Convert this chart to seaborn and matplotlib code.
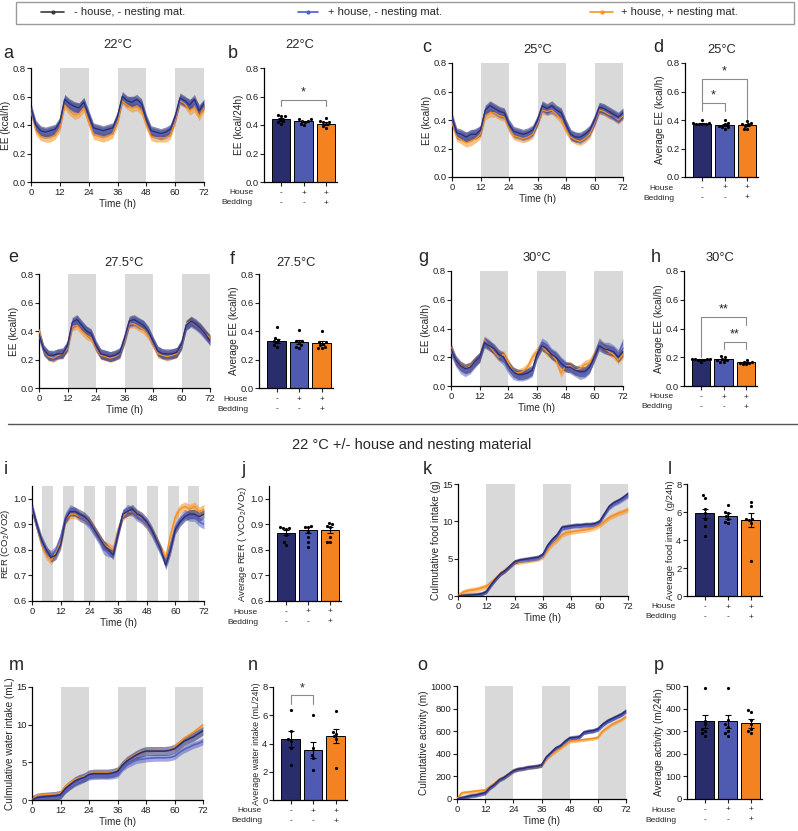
import matplotlib
matplotlib.use("Agg")
import matplotlib.pyplot as plt
from matplotlib.lines import Line2D
from matplotlib.patches import Rectangle
import numpy as np
import pandas as pd
import seaborn as sns

# ---------------------------------------------------------------- data
GROUPS = ["- house, - nesting mat.", "+ house, - nesting mat.", "+ house, + nesting mat."]
CATS = ["ctrl", "house", "house_nest"]
HOUSE_SIGNS = ["-", "+", "+"]
BEDDING_SIGNS = ["-", "-", "+"]

HOURS = list(range(0, 73, 2))
DARK_PHASES = [(12, 24), (36, 48), (60, 72)]
RER_BAND_STARTS = [4.2, 12.9, 21.7, 30.5, 39.3, 48.1, 56.9, 65.5]
RER_BAND_WIDTH = 4.6

# energy expenditure traces (kcal/h), every 2 h
EE22_CTRL = [0.52, 0.40, 0.36, 0.35, 0.36, 0.37, 0.42, 0.58, 0.55, 0.53, 0.52, 0.56, 0.47, 0.38, 0.37, 0.36, 0.37, 0.38, 0.46,
             0.60, 0.57, 0.56, 0.58, 0.55, 0.44, 0.36, 0.35, 0.34, 0.35, 0.37, 0.46, 0.59, 0.57, 0.54, 0.58, 0.50, 0.55]
EE22_HOUSE = [0.50, 0.39, 0.35, 0.34, 0.35, 0.36, 0.41, 0.57, 0.54, 0.52, 0.52, 0.55, 0.46, 0.37, 0.36, 0.35, 0.36, 0.37, 0.45,
              0.59, 0.56, 0.57, 0.56, 0.54, 0.43, 0.35, 0.34, 0.33, 0.34, 0.36, 0.45, 0.58, 0.56, 0.55, 0.56, 0.51, 0.54]
EE22_NEST = [0.50, 0.36, 0.32, 0.31, 0.31, 0.33, 0.38, 0.54, 0.50, 0.47, 0.48, 0.52, 0.42, 0.33, 0.32, 0.31, 0.32, 0.34, 0.42,
             0.57, 0.54, 0.52, 0.53, 0.50, 0.40, 0.32, 0.31, 0.31, 0.31, 0.33, 0.43, 0.57, 0.55, 0.50, 0.52, 0.46, 0.52]

EE25_CTRL = [0.42, 0.31, 0.30, 0.28, 0.30, 0.30, 0.33, 0.47, 0.50, 0.48, 0.46, 0.45, 0.37, 0.32, 0.31, 0.30, 0.31, 0.33, 0.40,
             0.50, 0.48, 0.50, 0.47, 0.45, 0.37, 0.30, 0.28, 0.28, 0.30, 0.33, 0.40, 0.49, 0.48, 0.46, 0.44, 0.42, 0.45]
EE25_HOUSE = [0.40, 0.30, 0.29, 0.28, 0.29, 0.31, 0.32, 0.46, 0.49, 0.47, 0.45, 0.44, 0.36, 0.31, 0.30, 0.29, 0.30, 0.32, 0.39,
              0.49, 0.47, 0.48, 0.46, 0.44, 0.36, 0.29, 0.28, 0.27, 0.29, 0.32, 0.39, 0.48, 0.47, 0.45, 0.43, 0.41, 0.44]
EE25_NEST = [0.38, 0.28, 0.26, 0.24, 0.25, 0.27, 0.30, 0.43, 0.45, 0.45, 0.43, 0.42, 0.34, 0.29, 0.28, 0.27, 0.28, 0.30, 0.38,
             0.47, 0.46, 0.47, 0.44, 0.40, 0.33, 0.28, 0.26, 0.25, 0.27, 0.30, 0.38, 0.47, 0.46, 0.44, 0.43, 0.40, 0.43]

EE275_CTRL = [0.38, 0.27, 0.23, 0.23, 0.24, 0.24, 0.30, 0.46, 0.48, 0.44, 0.40, 0.38, 0.30, 0.24, 0.23, 0.22, 0.23, 0.25, 0.35,
              0.47, 0.48, 0.46, 0.44, 0.40, 0.33, 0.26, 0.24, 0.24, 0.24, 0.25, 0.31, 0.44, 0.47, 0.45, 0.42, 0.38, 0.33]
EE275_HOUSE = [0.37, 0.26, 0.23, 0.22, 0.24, 0.25, 0.29, 0.45, 0.47, 0.43, 0.40, 0.37, 0.29, 0.24, 0.23, 0.22, 0.23, 0.24, 0.34,
               0.46, 0.47, 0.45, 0.44, 0.39, 0.32, 0.26, 0.24, 0.23, 0.24, 0.25, 0.30, 0.44, 0.46, 0.44, 0.41, 0.37, 0.34]
EE275_NEST = [0.41, 0.26, 0.22, 0.21, 0.23, 0.24, 0.28, 0.43, 0.44, 0.40, 0.37, 0.35, 0.28, 0.23, 0.22, 0.21, 0.22, 0.24, 0.33,
              0.45, 0.45, 0.43, 0.41, 0.37, 0.31, 0.24, 0.23, 0.22, 0.23, 0.24, 0.30, 0.45, 0.47, 0.44, 0.42, 0.38, 0.35]

EE30_CTRL = [0.26, 0.18, 0.14, 0.12, 0.13, 0.17, 0.20, 0.30, 0.28, 0.26, 0.22, 0.20, 0.14, 0.10, 0.08, 0.08, 0.09, 0.11, 0.22,
             0.28, 0.26, 0.22, 0.20, 0.16, 0.13, 0.13, 0.11, 0.10, 0.10, 0.13, 0.20, 0.28, 0.26, 0.25, 0.24, 0.20, 0.24]
EE30_HOUSE = [0.24, 0.17, 0.12, 0.10, 0.12, 0.16, 0.20, 0.31, 0.29, 0.25, 0.21, 0.18, 0.12, 0.08, 0.07, 0.07, 0.08, 0.10, 0.22,
              0.30, 0.28, 0.23, 0.21, 0.17, 0.14, 0.12, 0.10, 0.08, 0.09, 0.12, 0.21, 0.30, 0.27, 0.27, 0.25, 0.22, 0.30]
EE30_NEST = [0.27, 0.17, 0.14, 0.12, 0.14, 0.17, 0.20, 0.32, 0.28, 0.24, 0.20, 0.22, 0.16, 0.10, 0.09, 0.10, 0.13, 0.20, 0.24,
             0.28, 0.24, 0.22, 0.18, 0.09, 0.14, 0.14, 0.11, 0.12, 0.15, 0.16, 0.22, 0.30, 0.27, 0.24, 0.22, 0.18, 0.22]

RER_CTRL = [0.97, 0.90, 0.84, 0.80, 0.77, 0.78, 0.82, 0.92, 0.95, 0.95, 0.94, 0.93, 0.91, 0.88, 0.85, 0.82, 0.80, 0.78, 0.86,
            0.94, 0.95, 0.96, 0.94, 0.93, 0.91, 0.88, 0.84, 0.80, 0.74, 0.80, 0.88, 0.91, 0.93, 0.94, 0.94, 0.93, 0.94]
RER_HOUSE = [0.96, 0.89, 0.83, 0.79, 0.78, 0.80, 0.85, 0.93, 0.96, 0.95, 0.93, 0.92, 0.90, 0.87, 0.84, 0.80, 0.79, 0.79, 0.87,
             0.94, 0.96, 0.95, 0.93, 0.92, 0.90, 0.87, 0.83, 0.79, 0.75, 0.82, 0.89, 0.92, 0.94, 0.93, 0.93, 0.91, 0.90]
RER_NEST = [0.96, 0.89, 0.82, 0.78, 0.76, 0.79, 0.83, 0.92, 0.94, 0.94, 0.93, 0.92, 0.91, 0.88, 0.85, 0.82, 0.81, 0.80, 0.88,
            0.93, 0.95, 0.95, 0.94, 0.92, 0.90, 0.87, 0.84, 0.80, 0.77, 0.86, 0.93, 0.96, 0.97, 0.96, 0.97, 0.95, 0.96]

FOOD_CTRL = [0, 0.05, 0.1, 0.15, 0.2, 0.3, 0.6, 1.5, 2.3, 3.0, 3.4, 4.0, 4.6, 4.8, 4.9, 5.0, 5.1, 5.2, 5.6,
             6.8, 7.6, 8.2, 9.2, 9.3, 9.4, 9.5, 9.5, 9.6, 9.6, 9.7, 10.0, 11.0, 12.0, 12.5, 12.8, 13.2, 13.7]
FOOD_HOUSE = [0, 0.03, 0.06, 0.1, 0.15, 0.25, 0.5, 1.4, 2.2, 2.9, 3.4, 4.0, 4.5, 4.7, 4.75, 4.8, 4.9, 5.0, 5.4,
              6.5, 7.3, 8.0, 8.9, 9.1, 9.2, 9.25, 9.3, 9.35, 9.4, 9.45, 9.8, 10.8, 11.7, 12.2, 12.5, 12.9, 13.3]
FOOD_NEST = [0, 0.5, 0.7, 0.8, 0.9, 1.1, 1.3, 1.8, 2.4, 3.0, 3.5, 4.0, 4.5, 4.6, 4.7, 4.8, 4.9, 5.0, 5.3,
             6.2, 7.0, 7.5, 8.2, 8.5, 8.6, 8.7, 8.8, 8.9, 9.0, 9.2, 9.5, 10.0, 10.5, 10.8, 11.1, 11.3, 11.6]

WATER_CTRL = [0, 0.3, 0.4, 0.45, 0.5, 0.55, 0.7, 1.5, 2.0, 2.5, 2.8, 3.0, 3.4, 3.5, 3.5, 3.5, 3.5, 3.6, 3.8,
              4.6, 5.2, 5.6, 6.0, 6.3, 6.5, 6.5, 6.5, 6.5, 6.5, 6.6, 6.8, 7.3, 7.8, 8.1, 8.4, 8.8, 9.2]
WATER_HOUSE = [0, 0.2, 0.3, 0.35, 0.4, 0.45, 0.6, 1.3, 1.8, 2.2, 2.5, 2.8, 3.1, 3.15, 3.2, 3.2, 3.2, 3.25, 3.4,
               4.2, 4.7, 5.0, 5.3, 5.4, 5.5, 5.55, 5.6, 5.6, 5.6, 5.65, 5.8, 6.3, 6.7, 7.0, 7.3, 7.5, 7.8]
WATER_NEST = [0, 0.6, 0.7, 0.75, 0.8, 0.85, 0.95, 1.8, 2.3, 2.7, 2.9, 3.1, 3.5, 3.55, 3.6, 3.6, 3.6, 3.65, 3.9,
              4.7, 5.3, 5.7, 6.1, 6.4, 6.5, 6.5, 6.55, 6.6, 6.6, 6.7, 7.0, 7.6, 8.2, 8.6, 9.0, 9.5, 10.0]

ACT_CTRL = [0, 10, 20, 30, 35, 45, 55, 100, 130, 170, 190, 220, 250, 265, 270, 280, 285, 290, 300,
            370, 410, 450, 470, 510, 540, 545, 550, 590, 600, 605, 620, 660, 690, 710, 730, 750, 780]
ACT_HOUSE = [0, 8, 18, 28, 33, 43, 52, 95, 125, 165, 188, 218, 248, 262, 268, 277, 283, 288, 298,
             362, 402, 440, 462, 500, 530, 536, 542, 580, 590, 596, 610, 650, 680, 700, 720, 740, 770]
ACT_NEST = [0, 55, 60, 65, 70, 75, 80, 110, 140, 175, 195, 215, 255, 265, 270, 278, 284, 288, 295,
            350, 390, 420, 450, 480, 510, 515, 520, 525, 530, 535, 545, 600, 630, 660, 680, 700, 730]

# half-width of the shaded envelope around each trace
EE_ENVELOPE = [0.035, 0.035, 0.03]
RER_ENVELOPE = [0.018, 0.018, 0.018]
FOOD_ENVELOPE = [0.3, 0.2, 0.35]
WATER_ENVELOPE = [0.6, 0.45, 0.12]
ACT_ENVELOPE = [20, 10, 15]

# bar panels: individual animals, means and SEM
EE22_PTS = [[0.47, 0.46, 0.46, 0.44, 0.43, 0.42, 0.41], [0.44, 0.44, 0.43, 0.43, 0.42, 0.41, 0.40],
            [0.45, 0.43, 0.42, 0.42, 0.41, 0.39, 0.38]]
EE22_MEAN = [0.44, 0.425, 0.41]
EE22_SEM = [0.010, 0.006, 0.009]

EE25_PTS = [[0.40, 0.38, 0.38, 0.37, 0.37, 0.37, 0.37], [0.40, 0.38, 0.37, 0.36, 0.35, 0.35, 0.34],
            [0.39, 0.38, 0.37, 0.37, 0.36, 0.34, 0.34]]
EE25_MEAN = [0.375, 0.365, 0.365]
EE25_SEM = [0.005, 0.007, 0.007]

EE275_PTS = [[0.43, 0.35, 0.34, 0.33, 0.32, 0.30, 0.29], [0.41, 0.33, 0.33, 0.32, 0.30, 0.29, 0.28],
             [0.40, 0.32, 0.32, 0.31, 0.30, 0.29, 0.28, 0.28]]
EE275_MEAN = [0.332, 0.322, 0.315]
EE275_SEM = [0.014, 0.013, 0.012]

EE30_PTS = [[0.19, 0.19, 0.19, 0.19, 0.18, 0.18, 0.17], [0.21, 0.20, 0.19, 0.18, 0.18, 0.17, 0.17],
            [0.18, 0.17, 0.17, 0.16, 0.16, 0.15, 0.15]]
EE30_MEAN = [0.187, 0.186, 0.164]
EE30_SEM = [0.003, 0.005, 0.004]

RER_PTS = [[0.89, 0.885, 0.885, 0.88, 0.86, 0.83, 0.82], [0.895, 0.89, 0.89, 0.87, 0.85, 0.83, 0.81],
           [0.905, 0.90, 0.895, 0.89, 0.85, 0.83, 0.83]]
RER_MEAN = [0.868, 0.878, 0.878]
RER_SEM = [0.010, 0.011, 0.012]

FOOD_PTS = [[7.2, 7.0, 6.2, 5.9, 5.5, 5.0, 4.3], [6.5, 6.0, 5.9, 5.7, 5.5, 5.3, 5.2],
            [6.7, 6.4, 5.5, 5.5, 5.4, 5.2, 2.5]]
FOOD_MEAN = [5.9, 5.7, 5.45]
FOOD_SEM = [0.35, 0.2, 0.5]

WATER_PTS = [[6.4, 4.9, 4.3, 4.2, 3.7, 2.5], [6.0, 3.7, 3.2, 3.0, 2.1], [6.3, 4.8, 4.7, 4.5, 4.3, 2.3]]
WATER_MEAN = [4.3, 3.55, 4.55]
WATER_SEM = [0.55, 0.55, 0.5]

ACT_PTS = [[490, 345, 330, 310, 300, 290, 280], [490, 350, 330, 320, 300, 290, 280],
           [395, 385, 350, 330, 310, 300, 290]]
ACT_MEAN = [343, 343, 335]
ACT_SEM = [28, 28, 20]

# significance brackets: (x1, x2, y_top, y_left_end, y_right_end, label)
SIG_B = [(0, 2, 0.578, 0.53, 0.53, "*")]
SIG_D = [(0, 1, 0.518, 0.465, 0.465, "*"), (0, 2, 0.69, 0.518, 0.41, "*")]
SIG_H = [(0, 2, 0.478, 0.205, 0.427, "**"), (1, 2, 0.305, 0.256, 0.256, "**")]
SIG_N = [(0, 1, 7.4, 6.8, 6.8, "*")]

# ---------------------------------------------------------------- style
LINE_COLORS = ["#2b2f75", "#5863c4", "#f7901e"]
BAR_COLORS = ["#292d6b", "#4e5bb0", "#f58220"]
LEGEND_COLORS = ["#3a3a3a", "#4a5bd6", "#f7941d"]
SHADE = "#d9d9d9"

sns.set_theme(style="ticks")
plt.rcParams["font.family"] = ["Liberation Sans", "DejaVu Sans"]
plt.rcParams["mathtext.fontset"] = "custom"
plt.rcParams["mathtext.rm"] = "Liberation Sans"
plt.rcParams["mathtext.default"] = "regular"
plt.rcParams["axes.linewidth"] = 0.9
plt.rcParams["axes.edgecolor"] = "black"

W, H = 798, 831
fig = plt.figure(figsize=(W / 100, H / 100), dpi=100)


def add_ax(left, top, right, bottom):
    return fig.add_axes([left / W, 1 - bottom / H, (right - left) / W, (bottom - top) / H])


def fig_text(x, y, s, **kw):
    fig.text(x / W, 1 - y / H, s, **kw)


def style_ax(ax, ylim, yticks, ylabel, fmt, ylabel_size=7.2):
    ax.set_ylim(*ylim)
    ax.set_yticks(yticks)
    ax.set_yticklabels([fmt.format(v) for v in yticks])
    ax.set_ylabel(ylabel, fontsize=ylabel_size, labelpad=1)
    ax.tick_params(axis="both", labelsize=6.8, length=3, width=0.8, pad=1, colors="#222222")
    sns.despine(ax=ax)


def trace_panel(box, series, env, ylim, yticks, ylabel, fmt="{:.1f}", rer=False, lw=1.0, ylabel_size=7.2):
    ax = add_ax(*box)
    if rer:
        for s in RER_BAND_STARTS:
            ax.axvspan(s, s + RER_BAND_WIDTH, color=SHADE, lw=0, zorder=0)
    else:
        for s, e in DARK_PHASES:
            ax.axvspan(s, e, color=SHADE, lw=0, zorder=0)
    for i in [2, 1, 0]:
        y = np.array(series[i])
        ax.fill_between(HOURS, y - env[i], y + env[i], color=LINE_COLORS[i], alpha=0.55, lw=0, zorder=2)
        sns.lineplot(x=HOURS, y=y, color=LINE_COLORS[i], lw=lw, ax=ax, zorder=3)
    ax.set_xlim(0, 72)
    ax.set_xticks(range(0, 73, 12))
    ax.set_xlabel("Time (h)", fontsize=7.2, labelpad=2)
    style_ax(ax, ylim, yticks, ylabel, fmt, ylabel_size)
    return ax


def bar_panel(box, pts, means, sems, ylim, yticks, ylabel, fmt="{:.1f}", sig=(), ylabel_size=7.2):
    ax = add_ax(*box)
    sns.barplot(x=CATS, y=means, hue=CATS, palette=dict(zip(CATS, BAR_COLORS)), order=CATS,
                saturation=1, width=0.82, edgecolor="black", linewidth=0.7, legend=False, ax=ax)
    ax.errorbar(range(3), means, yerr=sems, fmt="none", ecolor="black", elinewidth=0.8, capsize=2.2,
                capthick=0.8, zorder=4)
    df = pd.DataFrame({"cat": [c for c, p in zip(CATS, pts) for _ in p],
                       "v": [v for p in pts for v in p]})
    sns.swarmplot(data=df, x="cat", y="v", order=CATS, color="black", size=2.3, ax=ax, zorder=5)
    ax.set_xlim(-0.78, 2.5)
    ax.set_xticks(range(3))
    ax.set_xticklabels([])
    ax.set_xlabel("")
    style_ax(ax, ylim, yticks, ylabel, fmt, ylabel_size)
    for i in range(3):
        ax.annotate(HOUSE_SIGNS[i], xy=(i, 0), xycoords=("data", "axes fraction"), xytext=(0, -11),
                    textcoords="offset pixels", ha="center", va="center", fontsize=6)
        ax.annotate(BEDDING_SIGNS[i], xy=(i, 0), xycoords=("data", "axes fraction"), xytext=(0, -21),
                    textcoords="offset pixels", ha="center", va="center", fontsize=6)
    ax.annotate("House", xy=(0, 0), xycoords="axes fraction", xytext=(-11, -11),
                textcoords="offset pixels", ha="right", va="center", fontsize=6)
    ax.annotate("Bedding", xy=(0, 0), xycoords="axes fraction", xytext=(-11, -21),
                textcoords="offset pixels", ha="right", va="center", fontsize=6)
    for x1, x2, yt, y1, y2, lab in sig:
        ax.plot([x1, x1, x2, x2], [y1, yt, yt, y2], color="#8a8a8a", lw=0.8, zorder=6, clip_on=False)
        ax.annotate(lab, xy=((x1 + x2) / 2, yt), xytext=(0, 1), textcoords="offset points",
                    ha="center", va="bottom", fontsize=9)
    return ax


# ---------------------------------------------------------------- legend
fig.add_artist(Rectangle((16 / W, 1 - 24 / H), (794 - 16) / W, 22 / H, transform=fig.transFigure,
                         fill=False, edgecolor="#9a9a9a", lw=1))
for (x0, x1, xt), lab, col in zip([(41, 64, 74), (298, 318, 328), (590, 613, 621)], GROUPS, LEGEND_COLORS):
    yy = 1 - 12 / H
    fig.add_artist(Line2D([x0 / W, x1 / W], [yy, yy], color=col, lw=1.2, transform=fig.transFigure))
    fig.add_artist(Line2D([(x0 + x1) / 2 / W], [yy], color=col, marker="o", ms=2, transform=fig.transFigure))
    fig_text(xt, 12, lab, fontsize=8, va="center", ha="left")

# ---------------------------------------------------------------- EE rows
ee_ticks = [0.0, 0.2, 0.4, 0.6, 0.8]
trace_panel((31, 68, 204, 182), [EE22_CTRL, EE22_HOUSE, EE22_NEST], EE_ENVELOPE, (0, 0.8), ee_ticks,
            "EE (kcal/h)")
bar_panel((264, 68, 337, 182), EE22_PTS, EE22_MEAN, EE22_SEM, (0, 0.8), ee_ticks, "EE (kcal/24h)", sig=SIG_B)
trace_panel((452, 63, 623, 177), [EE25_CTRL, EE25_HOUSE, EE25_NEST], EE_ENVELOPE, (0, 0.8), ee_ticks,
            "EE (kcal/h)")
bar_panel((685, 63, 758, 177), EE25_PTS, EE25_MEAN, EE25_SEM, (0, 0.8), ee_ticks, "Average EE (kcal/h)",
          sig=SIG_D)
trace_panel((39, 274, 210, 388), [EE275_CTRL, EE275_HOUSE, EE275_NEST], EE_ENVELOPE, (0, 0.8), ee_ticks,
            "EE (kcal/h)")
bar_panel((259, 274, 333, 388), EE275_PTS, EE275_MEAN, EE275_SEM, (0, 0.8), ee_ticks, "Average EE (kcal/h)")
trace_panel((451, 271, 623, 386), [EE30_CTRL, EE30_HOUSE, EE30_NEST], EE_ENVELOPE, (0, 0.8), ee_ticks,
            "EE (kcal/h)")
bar_panel((684, 271, 757, 386), EE30_PTS, EE30_MEAN, EE30_SEM, (0, 0.8), ee_ticks, "Average EE (kcal/h)",
          sig=SIG_H)

for x, y, t in [(118, 45, "22°C"), (300, 45, "22°C"), (538, 50, "25°C"), (722, 50, "25°C"),
                (124, 263, "27.5°C"), (296, 263, "27.5°C"), (537, 258, "30°C"), (720, 258, "30°C")]:
    fig_text(x, y, t, fontsize=9.3, ha="center", va="center")

# divider + section title
fig.add_artist(Line2D([8 / W, 798 / W], [1 - 424 / H, 1 - 424 / H], color="#555555", lw=1,
                      transform=fig.transFigure))
fig_text(412, 445, "22 °C +/- house and nesting material", fontsize=10.5, ha="center", va="center")

# ---------------------------------------------------------------- metabolic rows
trace_panel((32, 486, 204, 601), [RER_CTRL, RER_HOUSE, RER_NEST], RER_ENVELOPE, (0.6, 1.05),
            [0.6, 0.7, 0.8, 0.9, 1.0], "RER (CO$_2$/VO2)", rer=True, ylabel_size=6.8)
bar_panel((269, 486, 341, 601), RER_PTS, RER_MEAN, RER_SEM, (0.6, 1.05), [0.6, 0.7, 0.8, 0.9, 1.0],
          "Average RER ( VCO$_2$/VO$_2$)", ylabel_size=6.8)
trace_panel((458, 484, 628, 596), [FOOD_CTRL, FOOD_HOUSE, FOOD_NEST], FOOD_ENVELOPE, (0, 15), [0, 5, 10, 15],
            "Culmutative food intake (g)", fmt="{:.0f}", lw=1.2)
bar_panel((687, 484, 762, 596), FOOD_PTS, FOOD_MEAN, FOOD_SEM, (0, 8), [0, 2, 4, 6, 8],
          "Average food intake  (g/24h)", fmt="{:.0f}", ylabel_size=6.8)
trace_panel((32, 687, 203, 800), [WATER_CTRL, WATER_HOUSE, WATER_NEST], WATER_ENVELOPE, (0, 15),
            [0, 5, 10, 15], "Culmulative water intake (mL)", fmt="{:.0f}", lw=1.2)
bar_panel((273, 687, 347, 800), WATER_PTS, WATER_MEAN, WATER_SEM, (0, 8), [0, 2, 4, 6, 8],
          "Average water intake (mL/24h)", fmt="{:.0f}", sig=SIG_N, ylabel_size=6.4)
trace_panel((457, 686, 626, 799), [ACT_CTRL, ACT_HOUSE, ACT_NEST], ACT_ENVELOPE, (0, 1000),
            [0, 200, 400, 600, 800, 1000], "Culmutative activity (m)", fmt="{:.0f}", lw=1.2)
bar_panel((687, 686, 762, 799), ACT_PTS, ACT_MEAN, ACT_SEM, (0, 500), [0, 100, 200, 300, 400, 500],
          "Average activity (m/24h)", fmt="{:.0f}")

# panel letters
for x, y, t in [(3, 53, "a"), (228, 53, "b"), (422, 47, "c"), (653, 47, "d"),
                (8, 257, "e"), (230, 259, "f"), (418, 257, "g"), (651, 258, "h"),
                (4, 470, "i"), (241, 470, "j"), (423, 470, "k"), (668, 470, "l"),
                (9, 665, "m"), (248, 665, "n"), (417, 666, "o"), (654, 666, "p")]:
    fig_text(x, y, t, fontsize=13, ha="left", va="center")

fig.savefig("out.png", dpi=100)
